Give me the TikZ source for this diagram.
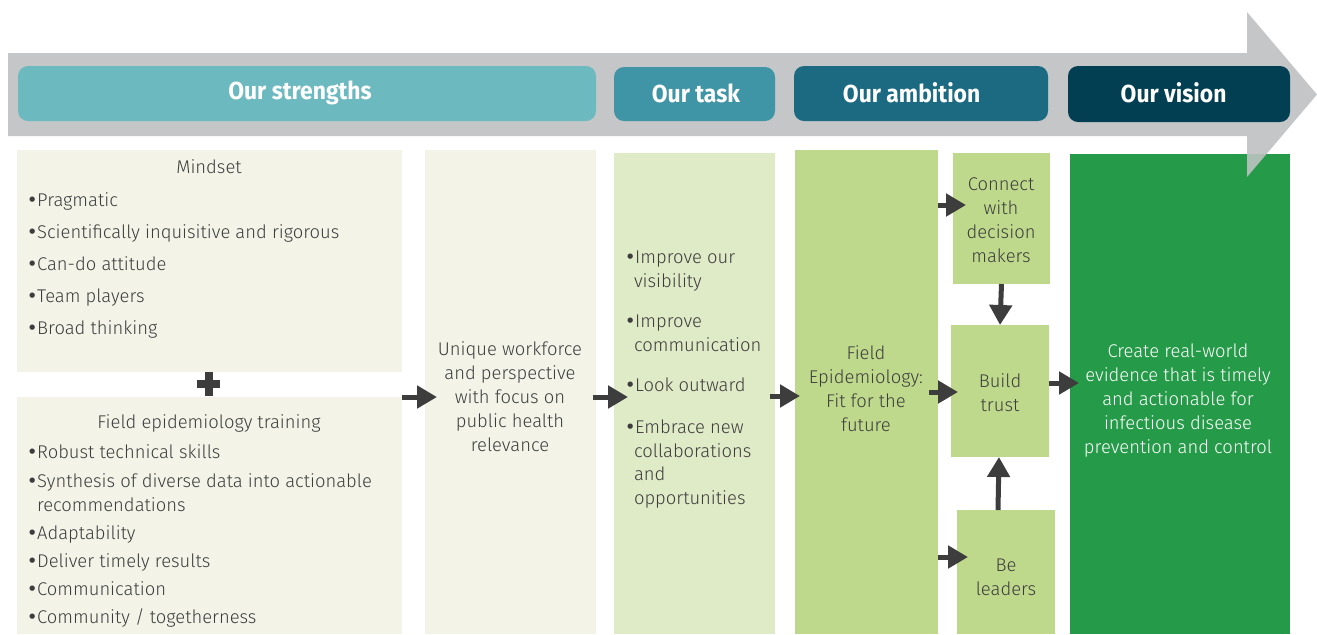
\documentclass[tikz,border=0pt]{standalone}
\usepackage{fontspec}
\setmainfont{Fira Sans}[UprightFont=* Light, BoldFont=* Bold]
\newfontfamily\hdrfont{Fira Sans}[UprightFont=* Bold, FakeStretch=0.93]
\newfontfamily\bulfont{DejaVu Sans}
\usetikzlibrary{arrows.meta,fit}

\definecolor{band}{HTML}{C5C6C8}
\definecolor{hA}{HTML}{6CB9BF}
\definecolor{hB}{HTML}{3F95A5}
\definecolor{hC}{HTML}{1B6A81}
\definecolor{hD}{HTML}{023F52}
\definecolor{paleA}{HTML}{F3F4E7}
\definecolor{paleB}{HTML}{DFEAC6}
\definecolor{midG}{HTML}{BFD98C}
\definecolor{deepG}{HTML}{259A48}
\definecolor{ink}{HTML}{3D3D3D}

% list bullet: a round dot followed by a short gap
\newcommand\bul{\makebox[4.6pt][l]{\kern-0.6pt{\bulfont •}}}

\tikzset{
  panel/.style={inner sep=0pt, outer sep=0pt, draw=none},
  hdr/.style={panel, rounded corners=5pt, text=white,
    font=\hdrfont\fontsize{12.3}{14}\selectfont},
  txt/.style={inner sep=0pt, outer sep=0pt, text=ink,
    font=\fontsize{9.2}{12}\selectfont},
  ctxt/.style={txt, align=center},
  li/.style={txt, anchor=base west},
  conn/.style={ink, line width=2.5pt, -{Triangle[length=10pt,width=11pt]}},
  plusbar/.style={fill=ink}
}

\begin{document}
\begin{tikzpicture}[x=0.5pt,y=-0.5pt]
\useasboundingbox (0,0) rectangle (1317,634);

% timeline band with its arrow head
\fill[band] (8,53) -- (1247,53) -- (1247,12) -- (1317,94.5) -- (1247,177)
  -- (1247,136) -- (8,136) -- cycle;

% phase headers
\node[hdr, fill=hA, fit={(18,66) (596,121)}] (hstr) {};
\node[hdr, fill=hB, fit={(614,67) (775,121)}] (htask) {};
\node[hdr, fill=hC, fit={(794,66) (1048,121)}] (hamb) {};
\node[hdr, fill=hD, fit={(1068,66) (1290,122)}] (hvis) {};
\node[hdr] (hstrT) at ([xshift=-3.5pt,yshift=0.5pt]hstr) {Our strengths};
\node[hdr] (htaskT) at ([xshift=0.7pt,yshift=0.5pt]htask) {Our task};
\node[hdr] (hambT) at ([xshift=-4.7pt,yshift=0.5pt]hamb) {Our ambition};
\node[hdr] (hvisT) at ([xshift=-2.7pt,yshift=0.5pt]hvis) {Our vision};

% content panels
\node[panel, fill=paleA, fit={(17,150) (402,372)}] (mind) {};
\node[panel, fill=paleA, fit={(17,397) (402,634)}] (train) {};
\node[panel, fill=paleA, fit={(425,150) (596,634)}] (unique) {};
\node[panel, fill=paleB, fit={(614,153) (775,634)}] (task) {};
\node[panel, fill=midG, fit={(795,150) (938,634)}] (fepi) {};
\node[panel, fill=midG, fit={(953,153) (1050,284)}] (connect) {};
\node[panel, fill=midG, fit={(951,325) (1049,457)}] (trust) {};
\node[panel, fill=midG, fit={(957,510) (1055,634)}] (leaders) {};
\node[panel, fill=deepG, fit={(1070,154) (1290,634)}] (vision) {};

% arrow head showing through over the vision panel
\begin{scope}
  \clip (1070,154) rectangle (1290,634);
  \fill[band, opacity=0.85] (1247,12) -- (1317,94.5) -- (1247,177) -- cycle;
\end{scope}

% plus sign between the two strength panels
\fill[plusbar] (197,380) rectangle (220,387.5);
\fill[plusbar] (204.5,372) rectangle (212.5,396);

% mindset list
\node[txt, anchor=base] (mindT) at (209,173) {Mindset};
\node[li] (m1) at (28,206) {\bul Pragmatic};
\node[li] (m2) at (28,238.5) {\bul Scientifically inquisitive and rigorous};
\node[li] (m3) at (28,270.7) {\bul Can-do attitude};
\node[li] (m4) at (28,302.6) {\bul Team players};
\node[li] (m5) at (28,334.8) {\bul Broad thinking};

% training list
\node[txt, anchor=base] (trainT) at (209,428.5) {Field epidemiology training};
\node[li] (t1) at (28,458) {\bul Robust technical skills};
\node[li] (t2) at (28,487) {\bul Synthesis of diverse data into actionable};
\node[li] (t2b) at (37,511) {recommendations};
\node[li] (t3) at (28,539) {\bul Adaptability};
\node[li] (t4) at (28,567) {\bul Deliver timely results};
\node[li] (t5) at (28,595) {\bul Communication};
\node[li] (t6) at (28,623) {\bul Community / togetherness};

% task list
\node[li] (k1) at (626,263) {\bul Improve our};
\node[li] (k1b) at (634,287) {visibility};
\node[li] (k2) at (626,327) {\bul Improve};
\node[li] (k2b) at (634,351) {communication};
\node[li] (k3) at (626,391) {\bul Look outward};
\node[li] (k4) at (626,433) {\bul Embrace new};
\node[li] (k4b) at (634,457) {collaborations};
\node[li] (k4c) at (634,480) {and};
\node[li] (k4d) at (634,504) {opportunities};

% centred panel texts
\node[ctxt] (uniqueT) at (510,397) {Unique workforce\\and perspective\\with focus on\\public health\\relevance};
\node[ctxt] (fepiT) at (866,389) {Field\\Epidemiology:\\Fit for the\\future};
\node[ctxt] (connectT) at (1001,220) {Connect\\with\\decision\\makers};
\node[ctxt] (trustT) at (1000,393) {Build\\trust};
\node[ctxt] (leadersT) at (1006,577) {Be\\leaders};
\node[ctxt, text=white] (visionT) at (1178,400.5) {Create real-world\\evidence that is timely\\and actionable for\\infectious disease\\prevention and control};

% connectors
\draw[conn] (train.east |- 0,397) -- ([xshift=6pt]unique.west |- 0,397);
\draw[conn] ([xshift=-1.5pt]unique.east |- 0,397) -- ([xshift=7pt]task.west |- 0,397);
\draw[conn] ([xshift=-2.5pt]task.east |- 0,396) -- ([xshift=2.5pt]fepi.west |- 0,396);
\draw[conn] (fepi.east |- 0,205) -- ([xshift=6.5pt]connect.west |- 0,205);
\draw[conn] ([xshift=-4.5pt]fepi.east |- 0,392) -- ([xshift=3.5pt]trust.west |- 0,392);
\draw[conn] (fepi.east |- 0,557) -- ([xshift=5.5pt]leaders.west |- 0,557);
\draw[conn] (connect.south) -- (trust.north);
\draw[conn] ([xshift=-4pt]leaders.north) -- ([xshift=-0.5pt]trust.south);
\draw[conn] (trust.east |- 0,383) -- ([xshift=4.5pt]vision.west |- 0,383);
\end{tikzpicture}
\end{document}
